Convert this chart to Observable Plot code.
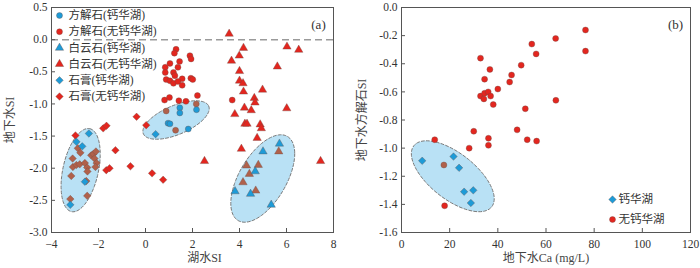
<!DOCTYPE html>
<html><head><meta charset="utf-8">
<script src="https://cdn.jsdelivr.net/npm/d3@7"></script>
<script src="https://cdn.jsdelivr.net/npm/@observablehq/plot@0.6"></script>
<style>
body{margin:0;background:#fff;}
#wrap{display:flex;width:700px;height:268px;overflow:hidden;}
</style></head><body><div id="wrap"></div>
<script>
// ---------- Panel (a) data: [lake-water SI, groundwater SI] ----------
const calciteCa = [[1.46,-1.06],[1.46,-1.14],[2.17,-1.09],[0.96,-1.30],[1.04,-1.31],[1.82,-1.39]];
const calciteNon = [[1.30,-0.15],[1.23,-0.21],[1.89,-0.25],[1.94,-0.30],[1.04,-0.37],[1.45,-0.34],[0.84,-0.43],[1.38,-0.43],
  [1.19,-0.51],[0.84,-0.51],[1.25,-0.56],[0.88,-0.62],[1.04,-0.64],[1.56,-0.61],[1.19,-0.68],[1.38,-0.65],[1.93,-0.60],
  [2.01,-0.62],[1.56,-0.71],[2.21,-0.87],[0.81,-0.94],[1.02,-0.90],[1.42,-0.95],[1.72,-0.96],[3.69,-0.94],
  [0.88,-1.11],[1.28,-1.41],[2.16,-1.00]];
const dolomiteCa = [[5.70,-1.62],[5.00,-1.74],[4.67,-2.05],[3.81,-2.36],[4.47,-2.40],[5.35,-2.57]];
const dolomiteNon = [[3.56,0.09],[6.02,-0.11],[6.52,-0.16],[4.17,-0.13],[3.99,-0.25],[3.66,-0.33],[5.61,-0.42],[4.00,-0.49],
  [4.00,-0.64],[4.15,-0.68],[4.98,-0.78],[4.17,-0.81],[4.63,-0.91],[4.66,-0.98],[4.21,-1.06],[4.50,-1.10],[6.01,-1.07],
  [3.80,-1.16],[4.23,-1.31],[4.32,-1.31],[4.88,-1.32],[4.93,-1.38],[4.75,-1.53],[4.08,-1.70],[2.51,-1.89],[7.45,-1.89],
  [5.67,-1.74],[4.80,-1.95],[4.30,-1.96],[4.42,-2.09],[4.15,-2.22],[4.69,-2.35]];
const gypsumCa = [[-2.41,-1.46],[-2.94,-1.59],[-2.69,-1.66],[-3.20,-2.57],[-2.58,-2.21],[0.43,-1.47]];
const gypsumNon = [[-2.98,-1.49],[-1.80,-1.38],[-1.66,-1.34],[-1.28,-1.72],[-1.67,-2.03],[-1.53,-2.00],[-0.64,-1.97],
  [0.28,-2.08],[0.75,-2.18],[-0.38,-1.20],[0.03,-1.33],
  [-2.88,-1.69],[-2.77,-1.76],[-3.10,-1.85],[-3.09,-1.98],[-2.94,-1.95],[-2.80,-1.94],[-2.58,-1.92],[-2.48,-1.99],
  [-2.47,-2.05],[-2.31,-1.80],[-2.22,-1.78],[-2.11,-1.74],[-2.17,-1.85],[-2.08,-1.92],[-2.13,-1.98],[-3.16,-2.12],
  [-2.52,-2.20],[-2.48,-2.43],[-3.20,-2.48]];
// ellipses (a): center, two conjugate half-axes (data units)
const ellA_center = [[-2.76,-2.03],[1.30,-1.25],[4.99,-2.16]];
const ellA_u = [[0.39,0.645],[1.39,0.216],[1.36,0.386]];
const ellA_v = [[0.736,-0.059],[0.245,-0.207],[0,-0.56]];
const xTicksA = [-4,-2,0,2,4,6,8];
const yTicksA = [-3,-2.5,-2,-1.5,-1,-0.5,0,0.5];
const legendA = ["方解石(钙华湖)","方解石(无钙华湖)","白云石(钙华湖)","白云石(无钙华湖)","石膏(钙华湖)","石膏(无钙华湖)"];

// ---------- Panel (b) data: [groundwater Ca mg/L, groundwater calcite SI] ----------
const caLakeB = [[8.6,-1.09],[21.6,-1.06],[23.9,-1.14],[26.0,-1.31],[29.8,-1.30],[28.8,-1.39]];
const nonLakeB = [[76.4,-0.16],[64.0,-0.22],[54.1,-0.26],[55.9,-0.33],[76.4,-0.31],[32.8,-0.36],[49.7,-0.41],[36.7,-0.44],
  [45.7,-0.48],[34.5,-0.51],[44.9,-0.53],[40.0,-0.58],[32.8,-0.63],[34.2,-0.65],[34.5,-0.61],[36.0,-0.60],[37.0,-0.63],
  [38.1,-0.69],[64.1,-0.66],[51.4,-0.72],[48.0,-0.87],[30.0,-0.88],[36.1,-0.93],[52.2,-0.94],[56.1,-0.95],[13.8,-0.94],
  [28.1,-1.00],[36.1,-0.98],[17.9,-1.41],[17.6,-1.12]];
const ellB_center = [[21.3,-1.20]];
const ellB_u = [[17.2,-0.16]];
const ellB_v = [[0,-0.195]];
const xTicksB = [0,20,40,60,80,100,120];
const yTicksB = [-1.6,-1.4,-1.2,-1.0,-0.8,-0.6,-0.4,-0.2,0];
const legendB = ["钙华湖","无钙华湖"];

// ---------- styling ----------
const RED = "#e3261f", BLUE = "#1e9bd7", BROWN = "#b0614b", ELL_FILL = "#b9e1f5";
const FONT = "'Liberation Serif','Times New Roman','Noto Sans CJK SC',serif";
const fmt = d => d3.format(".1f")(d).replace("\u2212","-");
const diamond = {draw(ctx, size){const r=Math.sqrt(size/2);ctx.moveTo(0,-r);ctx.lineTo(r,0);ctx.lineTo(0,r);ctx.lineTo(-r,0);ctx.closePath();}};
const symR = {circle:3, triangle:3.1, diamond:3.0};
const sym = {circle:"circle", triangle:"triangle", diamond:diamond};
const dotStroke = {stroke:"#6b4a44", strokeWidth:0.5, strokeOpacity:0.7};

function ellipses(centers, us, vs){
  const out=[];
  centers.forEach((c,i)=>{
    for(let k=0;k<90;k++){const t=k/90*2*Math.PI;
      out.push({id:i, x:c[0]+us[i][0]*Math.cos(t)+vs[i][0]*Math.sin(t), y:c[1]+us[i][1]*Math.cos(t)+vs[i][1]*Math.sin(t)});}
  });
  return out;
}
// is a point well inside one of the shaded ellipses (seen through the blue wash → brownish)
function inside(p, centers, us, vs){
  return centers.some((c,i)=>{
    const [ux,uy]=us[i], [vx,vy]=vs[i], dx=p[0]-c[0], dy=p[1]-c[1], det=ux*vy-uy*vx;
    const a=(dx*vy-dy*vx)/det, b=(ux*dy-uy*dx)/det;
    return a*a+b*b<0.85;
  });
}
function dots(data, kind, color){
  return Plot.dot(data, {x:d=>d[0], y:d=>d[1], symbol:sym[kind], r:symR[kind], fill:color, ...dotStroke});
}
function ellMark(data){
  return Plot.line(data, {x:"x", y:"y", z:"id", curve:"linear-closed", fill:ELL_FILL,
    stroke:"#7a7a7a", strokeWidth:1, strokeDasharray:"3,2"});
}
const redOrBrownA = d => inside(d, ellA_center, ellA_u, ellA_v) ? BROWN : RED;
const redOrBrownB = d => inside(d, ellB_center, ellB_u, ellB_v) ? BROWN : RED;

// ---------- Panel (a) ----------
const W=350, H=268;
const mA = {l:51, r:17, t:7, b:36};
const legendMarksA = [];
const kindsA = ["circle","circle","triangle","triangle","diamond","diamond"];
legendA.forEach((lab,i)=>{
  const color = i%2===0 ? BLUE : RED;
  legendMarksA.push(Plot.dot([0], {frameAnchor:"top-left", dx:8, dy:8+i*16.2, symbol:sym[kindsA[i]], r:symR[kindsA[i]], fill:color, ...dotStroke}));
  legendMarksA.push(Plot.text([lab], {frameAnchor:"top-left", dx:17, dy:8+i*16.2, textAnchor:"start", lineAnchor:"middle", fontSize:11.5, fill:"#333"}));
});
const plotA = Plot.plot({
  width:W, height:H, marginLeft:mA.l, marginRight:mA.r, marginTop:mA.t, marginBottom:mA.b,
  style:{fontFamily:FONT, fontSize:"11.5px", color:"#333", background:"#fff"},
  x:{domain:[-4,8], ticks:xTicksA, tickSize:0, tickPadding:7, label:null},
  y:{domain:[-3,0.5], ticks:yTicksA, tickSize:0, tickPadding:4, tickFormat:fmt, label:null},
  marks:[
    Plot.ruleY([0], {stroke:"#9a9a9a", strokeWidth:1.5, strokeDasharray:"7,4"}),
    ellMark(ellipses(ellA_center, ellA_u, ellA_v)),
    Plot.dot(calciteNon, {x:d=>d[0], y:d=>d[1], symbol:"circle", r:symR.circle, fill:redOrBrownA, ...dotStroke}),
    Plot.dot(dolomiteNon, {x:d=>d[0], y:d=>d[1], symbol:"triangle", r:symR.triangle, fill:redOrBrownA, ...dotStroke}),
    Plot.dot(gypsumNon, {x:d=>d[0], y:d=>d[1], symbol:diamond, r:symR.diamond, fill:redOrBrownA, ...dotStroke}),
    dots(calciteCa,"circle",BLUE), dots(dolomiteCa,"triangle",BLUE), dots(gypsumCa,"diamond",BLUE),
    Plot.tickX(xTicksA, {x:d=>d, insetTop:H-mA.t-mA.b-4, stroke:"#555"}),
    Plot.tickY(yTicksA, {y:d=>d, insetRight:W-mA.l-mA.r-4, stroke:"#555"}),
    Plot.frame({stroke:"#555"}),
    ...legendMarksA,
    Plot.text(["(a)"], {frameAnchor:"top-right", dx:-15, dy:17, textAnchor:"middle", lineAnchor:"middle", fontSize:13, fill:"#333"}),
    Plot.text(["湖水SI"], {frameAnchor:"bottom", dx:12, dy:26, textAnchor:"middle", lineAnchor:"middle", fontSize:12, fill:"#444"}),
    Plot.text(["地下水SI"], {frameAnchor:"left", dx:-41, rotate:-90, textAnchor:"middle", lineAnchor:"middle", fontSize:12, fill:"#444"})
  ]
});

// ---------- Panel (b) ----------
const mB = {l:51, r:10, t:7, b:36};
const legendMarksB = [];
legendB.forEach((lab,i)=>{
  const kind = i===0 ? "diamond" : "circle";
  const color = i===0 ? BLUE : RED;
  legendMarksB.push(Plot.dot([0], {frameAnchor:"top-left", dx:211, dy:192+i*20, symbol:sym[kind], r:symR[kind], fill:color, ...dotStroke}));
  legendMarksB.push(Plot.text([lab], {frameAnchor:"top-left", dx:217, dy:192+i*20, textAnchor:"start", lineAnchor:"middle", fontSize:11.5, fill:"#333"}));
});
const plotB = Plot.plot({
  width:W, height:H, marginLeft:mB.l, marginRight:mB.r, marginTop:mB.t, marginBottom:mB.b,
  style:{fontFamily:FONT, fontSize:"11.5px", color:"#333", background:"#fff"},
  x:{domain:[0,120], ticks:xTicksB, tickSize:0, tickPadding:7, label:null},
  y:{domain:[-1.6,0], ticks:yTicksB, tickSize:0, tickPadding:4, tickFormat:fmt, label:null},
  marks:[
    ellMark(ellipses(ellB_center, ellB_u, ellB_v)),
    Plot.dot(nonLakeB, {x:d=>d[0], y:d=>d[1], symbol:"circle", r:symR.circle, fill:redOrBrownB, ...dotStroke}),
    dots(caLakeB,"diamond",BLUE),
    Plot.tickX(xTicksB, {x:d=>d, insetTop:H-mB.t-mB.b-4, stroke:"#555"}),
    Plot.tickY(yTicksB, {y:d=>d, insetRight:W-mB.l-mB.r-4, stroke:"#555"}),
    Plot.frame({stroke:"#555"}),
    ...legendMarksB,
    Plot.text(["(b)"], {frameAnchor:"top-right", dx:-15, dy:17, textAnchor:"middle", lineAnchor:"middle", fontSize:13, fill:"#333"}),
    Plot.text(["地下水Ca (mg/L)"], {frameAnchor:"bottom", dy:26, textAnchor:"middle", lineAnchor:"middle", fontSize:12, fill:"#444"}),
    Plot.text(["地下水方解石SI"], {frameAnchor:"left", dx:-39, rotate:-90, textAnchor:"middle", lineAnchor:"middle", fontSize:12, fill:"#444"})
  ]
});
const wrap = document.getElementById("wrap");
wrap.appendChild(plotA);
wrap.appendChild(plotB);
</script>
</body></html>
